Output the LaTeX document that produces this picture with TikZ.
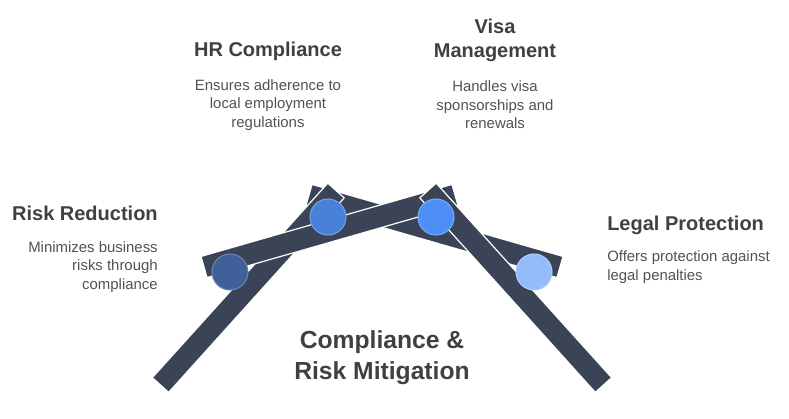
\documentclass[tikz,border=0pt]{standalone}
\usepackage{fontspec}
\setmainfont{Liberation Sans}
\usetikzlibrary{calc}
\definecolor{barcol}{RGB}{58,68,86}
\definecolor{cone}{RGB}{63,96,152}
\definecolor{ctwo}{RGB}{74,129,216}
\definecolor{cthree}{RGB}{77,142,247}
\definecolor{cfour}{RGB}{148,188,251}
\definecolor{titlecol}{RGB}{64,64,64}
\definecolor{desccol}{RGB}{82,82,82}
\newcommand\stickbar[2]{\draw[stick] ($(#1)!8.25pt!90:(#2)$) -- ($(#2)!8.25pt!-90:(#1)$) -- ($(#2)!8.25pt!90:(#1)$) -- ($(#1)!8.25pt!-90:(#2)$) -- cycle;}
\begin{document}
\begin{tikzpicture}[x=0.75pt,y=-0.75pt,
  stick/.style={fill=barcol, draw=white, line width=0.9pt, line join=miter},
  dot/.style={circle, minimum size=27pt, inner sep=0pt, line width=0.8pt},
  ttl/.style={inner sep=0pt, text=titlecol, font=\bfseries\fontsize{15}{18}\selectfont},
  desc/.style={inner sep=0pt, text=desccol, font=\fontsize{11.2}{13.9}\selectfont},
  bigttl/.style={inner sep=0pt, text=titlecol, font=\bfseries\fontsize{18.5}{23.3}\selectfont}]
\useasboundingbox (0,0) rectangle (789,418);
% stick end points
\coordinate (a1) at (160.5,385); \coordinate (a2) at (336,190.5);
\coordinate (b1) at (204,267);   \coordinate (b2) at (455,195);
\coordinate (c1) at (603.5,385); \coordinate (c2) at (428,190.5);
\coordinate (d1) at (560,267);   \coordinate (d2) at (309,195);
\stickbar{d1}{d2}
\stickbar{a1}{a2}
\stickbar{b1}{b2}
\stickbar{c1}{c2}
% circles
\node[dot, fill=cone, draw=cone!75!white] (n1) at (230,272) {};
\node[dot, fill=ctwo, draw=ctwo!75!white] (n2) at (328,217) {};
\node[dot, fill=cthree, draw=cthree!75!white] (n3) at (436,217) {};
\node[dot, fill=cfour, draw=cfour!75!white] (n4) at (534,272) {};
% texts
\node[ttl, anchor=east] (t1) at (158,213) {Risk Reduction};
\node[desc, anchor=east, align=right] (d1t) at (158,267) {Minimizes business\\risks through\\compliance};
\node[ttl] (t2) at (268,51) {HR Compliance};
\node[desc, align=center] (d2t) at (268,105) {Ensures adherence to\\local employment\\regulations};
\node[ttl, align=center] (t3) at (495,40) {Visa\\Management};
\node[desc, align=center] (d3t) at (495,105) {Handles visa\\sponsorships and\\renewals};
\node[ttl, anchor=west] (t4) at (607,225) {Legal Protection};
\node[desc, anchor=west, align=left] (d4t) at (607,267) {Offers protection against\\legal penalties};
\node[bigttl, align=center] (mt) at (382,358) {Compliance \&\\Risk Mitigation};
\end{tikzpicture}
\end{document}
